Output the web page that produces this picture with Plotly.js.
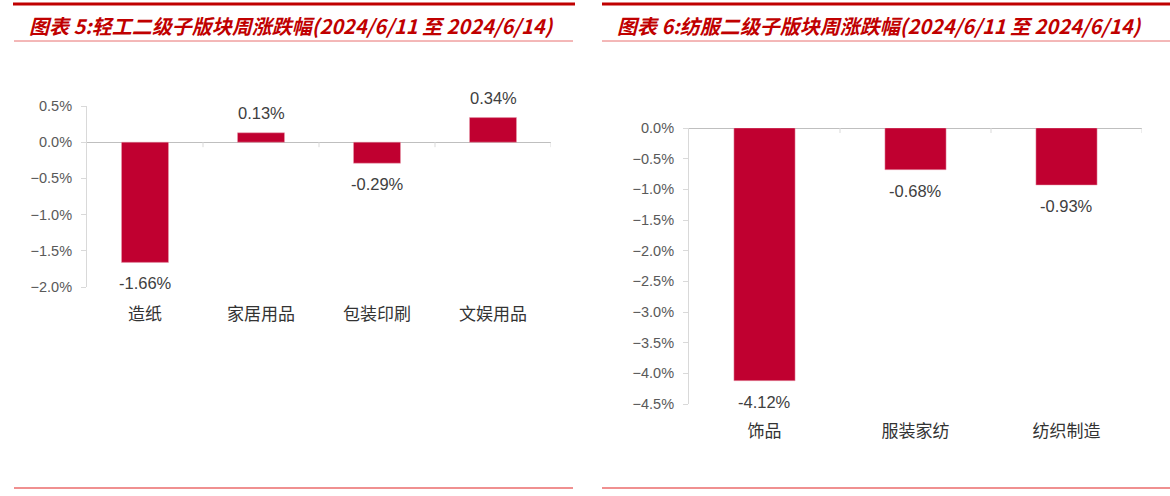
<!DOCTYPE html>
<html>
<head>
<meta charset="utf-8">
<script src="https://cdn.plot.ly/plotly-3.0.1.min.js"></script>
<style>html,body{margin:0;padding:0;background:#fff;}#chart{width:1170px;height:496px;}</style>
</head>
<body>
<div id="chart"></div>
<script>
// Left chart: 轻工二级子版块
const leftTitle = "图表 5:轻工二级子版块周涨跌幅(2024/6/11 至 2024/6/14)";
const leftCategories = ["造纸", "家居用品", "包装印刷", "文娱用品"];
const leftValues = [-1.66, 0.13, -0.29, 0.34];
const leftRange = [-2.0, 0.5];

// Right chart: 纺服二级子版块
const rightTitle = "图表 6:纺服二级子版块周涨跌幅(2024/6/11 至 2024/6/14)";
const rightCategories = ["饰品", "服装家纺", "纺织制造"];
const rightValues = [-4.12, -0.68, -0.93];
const rightRange = [-4.5, 0.0];

const W = 1170, H = 496;
const px = v => v / W;
const py = v => 1 - v / H;

const barColor = "#C00030";
const labelFont = {family: "Liberation Sans, Arial, sans-serif", size: 16.5, color: "#404040"};

function barTrace(cats, vals, xa, ya) {
  return {
    type: "bar", x: cats, y: vals, xaxis: xa, yaxis: ya,
    marker: {color: barColor, line: {color: "#E8A0B0", width: 0.5}},
    hoverinfo: "skip"
  };
}

const data = [
  barTrace(leftCategories, leftValues, "x", "y"),
  barTrace(rightCategories, rightValues, "x2", "y2")
];

function xAxis(domain, anchor, n) {
  return {
    domain: domain, anchor: anchor, type: "category", range: [-0.5, n - 0.5],
    showline: false, showgrid: false, zeroline: false, ticks: "",
    tickfont: {family: "Liberation Sans, Noto Sans CJK SC, sans-serif", size: 17, color: "#333333"},
    ticklabelstandoff: 15, fixedrange: true
  };
}
function yAxis(domain, anchor, range) {
  return {
    domain: domain, anchor: anchor, range: range, dtick: 0.5, tick0: 0,
    tickformat: ".1f", ticksuffix: "%",
    showline: true, linecolor: "#D9D9D9", linewidth: 1,
    ticks: "outside", ticklen: 5, tickcolor: "#D9D9D9", tickwidth: 1,
    showgrid: false, zeroline: true, zerolinecolor: "#BFBFBF", zerolinewidth: 1,
    tickfont: {family: "Liberation Sans, Arial, sans-serif", size: 14.5, color: "#595959"},
    ticklabelstandoff: 6, fixedrange: true
  };
}

const shapes = [];
function catTicks(n, xr, yr) {
  for (let i = 0; i < n; i++) {
    shapes.push({type: "line", xref: xr, yref: yr, x0: i + 0.5, x1: i + 0.5,
      ysizemode: "pixel", yanchor: 0, y0: 0, y1: -5,
      line: {color: "#D9D9D9", width: 1}});
  }
}
catTicks(leftCategories.length, "x", "y");
catTicks(rightCategories.length, "x2", "y2");

function hline(x0, x1, y, color, width) {
  shapes.push({type: "line", xref: "paper", yref: "paper", x0: px(x0), x1: px(x1), y0: py(y), y1: py(y),
    line: {color: color, width: width}});
}
hline(13, 575, 4, "#C00000", 3);
hline(602, 1170, 4, "#C00000", 3);
hline(14, 573, 41, "#E87070", 1);
hline(602, 1170, 41, "#E87070", 1);
hline(14, 573, 488, "#F09090", 2);
hline(602, 1170, 488, "#F09090", 2);

const titleFont = {family: "Noto Sans CJK SC, sans-serif", size: 20, color: "#C00000", weight: "bold", style: "italic"};
const annotations = [
  {text: leftTitle, xref: "paper", yref: "paper", x: px(27), y: py(25), xanchor: "left", yanchor: "middle", showarrow: false, font: titleFont},
  {text: rightTitle, xref: "paper", yref: "paper", x: px(615), y: py(25), xanchor: "left", yanchor: "middle", showarrow: false, font: titleFont}
];

function valueLabels(cats, vals, xr, yr) {
  cats.forEach((c, i) => {
    const v = vals[i];
    annotations.push({text: v.toFixed(2) + "%", xref: xr, yref: yr, x: c, y: v,
      xanchor: "center", yanchor: "middle", yshift: v >= 0 ? 20 : -21,
      showarrow: false, font: labelFont});
  });
}
valueLabels(leftCategories, leftValues, "x", "y");
valueLabels(rightCategories, rightValues, "x2", "y2");

const layout = {
  width: W, height: H, margin: {l: 0, r: 0, t: 0, b: 0},
  paper_bgcolor: "#ffffff", plot_bgcolor: "rgba(0,0,0,0)",
  showlegend: false, bargap: 0.595,
  xaxis: xAxis([px(87), px(551)], "y", leftCategories.length),
  yaxis: yAxis([py(287), py(106)], "x", leftRange),
  xaxis2: xAxis([px(689), px(1142)], "y2", rightCategories.length),
  yaxis2: yAxis([py(404), py(128)], "x2", rightRange),
  shapes: shapes, annotations: annotations
};

Plotly.newPlot("chart", data, layout, {displayModeBar: false, staticPlot: true});
</script>
</body>
</html>
